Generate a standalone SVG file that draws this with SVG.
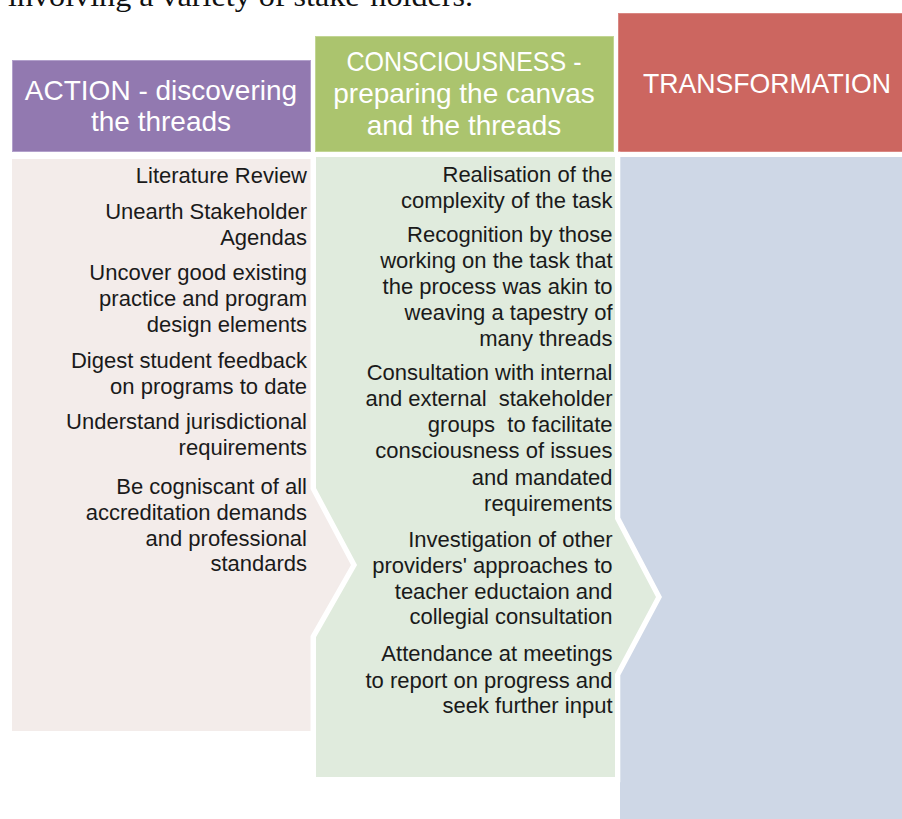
<svg xmlns="http://www.w3.org/2000/svg" width="902" height="819" viewBox="0 0 902 819">
<style>
.hd{font-family:"Liberation Sans",Arial,sans-serif;font-size:28px;fill:#ffffff;text-anchor:middle}
.bd{font-family:"Liberation Sans",Arial,sans-serif;font-size:22px;fill:#1a1a1a;text-anchor:end;white-space:pre}
.body{stroke:#ffffff;stroke-width:10.6;paint-order:stroke;stroke-linejoin:miter}
</style>
<rect width="902" height="819" fill="#ffffff"/>
<text x="8" y="6" font-family="'Liberation Serif',serif" font-size="30" fill="#111" textLength="465" lengthAdjust="spacingAndGlyphs">involving a variety of stake-holders.</text>

<g id="transformation">
<rect x="620" y="157" width="282" height="662" fill="#CED7E6"/>
<rect x="618.5" y="13.5" width="284" height="138" fill="#CC6660" stroke="#D98782" stroke-width="1"/>
<text class="hd" x="767" y="93" textLength="248" lengthAdjust="spacingAndGlyphs">TRANSFORMATION</text>
</g>

<g id="consciousness">
<polygon class="body" points="316,157 615,157 615,519 656,597 615,674 615,777 316,777" fill="#E0EBDD"/>
<rect x="315.5" y="36.5" width="298" height="115" fill="#ABC46E" stroke="#C2D594" stroke-width="1"/>
<text class="hd" x="464" y="71" textLength="235" lengthAdjust="spacingAndGlyphs">CONSCIOUSNESS -</text>
<text class="hd" x="464" y="103">preparing the canvas</text>
<text class="hd" x="464" y="135">and the threads</text>
<text class="bd" x="612.5" y="182">Realisation of the</text>
<text class="bd" x="612.5" y="208">complexity of the task</text>
<text class="bd" x="612.5" y="242">Recognition by those</text>
<text class="bd" x="612.5" y="268">working on the task that</text>
<text class="bd" x="612.5" y="294">the process was akin to</text>
<text class="bd" x="612.5" y="320">weaving a tapestry of</text>
<text class="bd" x="612.5" y="346">many threads</text>
<text class="bd" x="612.5" y="380">Consultation with internal</text>
<text class="bd" x="612.5" y="406">and external  stakeholder</text>
<text class="bd" x="612.5" y="432">groups  to facilitate</text>
<text class="bd" x="612.5" y="458">consciousness of issues</text>
<text class="bd" x="612.5" y="485">and mandated</text>
<text class="bd" x="612.5" y="511">requirements</text>
<text class="bd" x="612.5" y="547">Investigation of other</text>
<text class="bd" x="612.5" y="573">providers' approaches to</text>
<text class="bd" x="612.5" y="599">teacher eductaion and</text>
<text class="bd" x="612.5" y="624">collegial consultation</text>
<text class="bd" x="612.5" y="661">Attendance at meetings</text>
<text class="bd" x="612.5" y="688">to report on progress and</text>
<text class="bd" x="612.5" y="713">seek further input</text>
</g>

<g id="action">
<polygon class="body" points="12,159 310.5,159 310.5,489 351,565 310.5,636 310.5,731 12,731" fill="#F3ECEA"/>
<rect x="12.5" y="60.5" width="298" height="91" fill="#9279B0" stroke="#B2A0CB" stroke-width="1"/>
<text class="hd" x="161" y="100">ACTION - discovering</text>
<text class="hd" x="161" y="131">the threads</text>
<text class="bd" x="307" y="183">Literature Review</text>
<text class="bd" x="307" y="219">Unearth Stakeholder</text>
<text class="bd" x="307" y="245">Agendas</text>
<text class="bd" x="307" y="280">Uncover good existing</text>
<text class="bd" x="307" y="306">practice and program</text>
<text class="bd" x="307" y="332">design elements</text>
<text class="bd" x="307" y="368">Digest student feedback</text>
<text class="bd" x="307" y="394">on programs to date</text>
<text class="bd" x="307" y="429">Understand jurisdictional</text>
<text class="bd" x="307" y="455">requirements</text>
<text class="bd" x="307" y="494">Be cogniscant of all</text>
<text class="bd" x="307" y="520">accreditation demands</text>
<text class="bd" x="307" y="546">and professional</text>
<text class="bd" x="307" y="571">standards</text>
</g>

<g id="connectors"></g>
</svg>
